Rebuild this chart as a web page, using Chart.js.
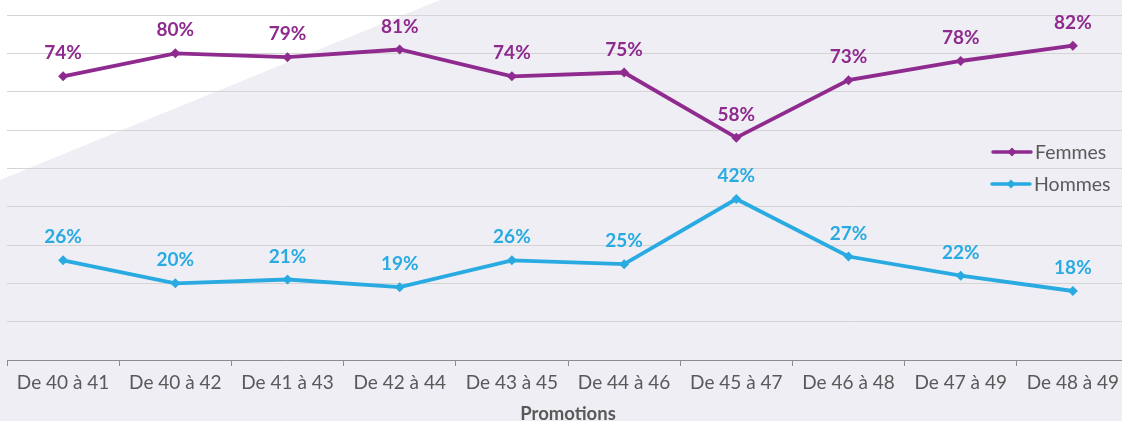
<!DOCTYPE html>
<html>
<head>
<meta charset="utf-8">
<script src="https://cdn.jsdelivr.net/npm/chart.js@4/dist/chart.umd.min.js"></script>
<style>
html,body{margin:0;padding:0;overflow:hidden;background:#fff;}
#wrap{width:1134px;height:421px;position:relative;}
</style>
</head>
<body>
<div id="wrap"><canvas id="c" width="1134" height="421"></canvas></div>
<script>
const categories = ['De 40 à 41','De 40 à 42','De 41 à 43','De 42 à 44','De 43 à 45','De 44 à 46','De 45 à 47','De 46 à 48','De 47 à 49','De 48 à 49'];
const femmes = [74, 80, 79, 81, 74, 75, 58, 73, 78, 82];
const hommes = [26, 20, 21, 19, 26, 25, 42, 27, 22, 18];
const seriesNames = ['Femmes', 'Hommes'];
const axisTitle = 'Promotions';

const PURPLE = '#8F2A8E';
const CYAN = '#29ABE2';
const GREY_TXT = '#595959';

const bgPlugin = {
  id: 'bg',
  beforeDraw(chart) {
    const ctx = chart.ctx;
    ctx.save();
    ctx.fillStyle = '#EEEEF4';
    ctx.fillRect(0, 0, chart.width, chart.height);
    ctx.fillStyle = '#FFFFFF';
    ctx.beginPath();
    ctx.moveTo(0, 0);
    ctx.lineTo(440, 0);
    ctx.lineTo(0, 180);
    ctx.closePath();
    ctx.fill();
    ctx.restore();
  }
};

const labelPlugin = {
  id: 'vlabels',
  afterDatasetsDraw(chart) {
    const ctx = chart.ctx;
    ctx.save();
    ctx.font = 'bold 19px Lato';
    ctx.textAlign = 'center';
    ctx.textBaseline = 'middle';
    chart.data.datasets.forEach((ds, i) => {
      const meta = chart.getDatasetMeta(i);
      ctx.fillStyle = ds.borderColor;
      meta.data.forEach((pt, j) => {
        ctx.fillText(ds.data[j] + '%', pt.x, pt.y - 23);
      });
    });
    ctx.restore();
  }
};

const legendPlugin = {
  id: 'mylegend',
  afterDatasetsDraw(chart) {
    const ctx = chart.ctx;
    ctx.save();
    ctx.font = '19.5px Lato';
    ctx.textBaseline = 'middle';
    ctx.textAlign = 'left';
    const items = [{y: 152, x0: 993}, {y: 184, x0: 992}];
    chart.data.datasets.forEach((ds, i) => {
      const it = items[i];
      ctx.strokeStyle = ds.borderColor;
      ctx.lineWidth = 3.5;
      ctx.lineCap = 'round';
      ctx.beginPath();
      ctx.moveTo(it.x0, it.y);
      ctx.lineTo(it.x0 + 38, it.y);
      ctx.stroke();
      ctx.fillStyle = ds.borderColor;
      const cx = it.x0 + 19, r = 4.5;
      ctx.beginPath();
      ctx.moveTo(cx, it.y - r);
      ctx.lineTo(cx + r, it.y);
      ctx.lineTo(cx, it.y + r);
      ctx.lineTo(cx - r, it.y);
      ctx.closePath();
      ctx.fill();
      ctx.fillStyle = GREY_TXT;
      ctx.fillText(ds.label, it.x0 + 42, it.y + 1);
    });
    ctx.restore();
  }
};

new Chart(document.getElementById('c'), {
  type: 'line',
  data: {
    labels: categories,
    datasets: [
      {label: seriesNames[0], data: femmes, borderColor: PURPLE, backgroundColor: PURPLE,
       borderWidth: 3.8, pointStyle: 'rectRot', pointRadius: 5, pointBorderWidth: 0, tension: 0},
      {label: seriesNames[1], data: hommes, borderColor: CYAN, backgroundColor: CYAN,
       borderWidth: 3.8, pointStyle: 'rectRot', pointRadius: 5, pointBorderWidth: 0, tension: 0}
    ]
  },
  options: {
    responsive: false,
    animation: false,
    layout: {padding: {left: 7, top: 15, right: 0, bottom: 0}},
    plugins: {legend: {display: false}, tooltip: {enabled: false}},
    scales: {
      x: {
        offset: true,
        grid: {drawOnChartArea: false, drawTicks: true, tickLength: 6, offset: true, color: '#8C8C8C', lineWidth: 1},
        border: {display: true, color: '#8C8C8C', width: 1},
        ticks: {color: GREY_TXT, font: {family: 'Lato', size: 19}, padding: 5, maxRotation: 0, autoSkip: false},
        title: {display: true, text: axisTitle, color: GREY_TXT, font: {family: 'Lato', size: 18.5, weight: 'bold', lineHeight: 1.0}, padding: {top: 0, bottom: -2}},
        afterFit(scale) { scale.height = 61; }
      },
      y: {
        min: 0, max: 90,
        ticks: {display: false, stepSize: 10},
        grid: {drawTicks: false, color: '#D4D4D4', lineWidth: 1},
        border: {display: false},
        afterFit(scale) { scale.width = 0; }
      }
    }
  },
  plugins: [bgPlugin, labelPlugin, legendPlugin]
});
</script>
</body>
</html>
